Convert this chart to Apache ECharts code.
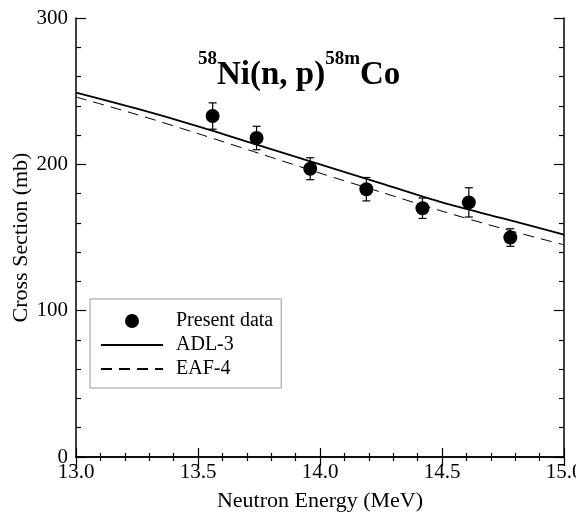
<!DOCTYPE html>
<html>
<head>
<meta charset="utf-8">
<script src="https://cdn.jsdelivr.net/npm/echarts@6/dist/echarts.min.js"></script>
<style>
html, body { margin: 0; padding: 0; background: #fff; }
#chart { width: 576px; height: 523px; }
</style>
</head>
<body>
<div id="chart"></div>
<script>
// Measured cross sections with uncertainties
const energies = [13.56, 13.74, 13.96, 14.19, 14.42, 14.61, 14.78];
const crossSections = [233, 218, 197, 183, 170, 174, 150];
const errors = [9, 8, 7.5, 8, 7, 10, 6];

// Evaluated excitation functions
const curveEnergies = [13.0, 13.25, 13.5, 13.75, 14.0, 14.25, 14.5, 14.75, 15.0];
const adl3 = [249, 238, 226, 213, 200, 187, 174, 163, 152];
const eaf4 = [246, 234, 221, 207.5, 194, 181, 168, 156, 145];

// Tick labels
const xTickValues = [13.0, 13.5, 14.0, 14.5, 15.0];
const xTickLabels = ['13.0', '13.5', '14.0', '14.5', '15.0'];
const yTickValues = [0, 100, 200, 300];
const yTickLabels = ['0', '100', '200', '300'];

const SERIF = '"Liberation Serif", "Times New Roman", serif';

function labelFor(values, labels) {
  return function (v) {
    const i = values.findIndex(function (t) { return Math.abs(t - v) < 1e-6; });
    return i >= 0 ? labels[i] : '';
  };
}

const axisLine = { show: true, lineStyle: { color: '#000', width: 1.5 } };

function xAxisCfg(pos, withLabels) {
  return {
    type: 'value', position: pos, min: 13, max: 15, interval: 0.5,
    axisLine: axisLine,
    axisTick: { show: true, inside: true, length: 9, lineStyle: { color: '#000', width: 1.2 } },
    minorTick: { show: true, splitNumber: 5, length: 4, lineStyle: { color: '#000', width: 1.2 } },
    splitLine: { show: false },
    minorSplitLine: { show: false },
    axisLabel: withLabels ? {
      show: true, color: '#000', fontFamily: SERIF, fontSize: 21, margin: 5,
      formatter: labelFor(xTickValues, xTickLabels)
    } : { show: false },
    name: withLabels ? 'Neutron Energy (MeV)' : '',
    nameLocation: 'middle', nameGap: 33, nameMoveOverlap: false,
    nameTextStyle: { color: '#000', fontFamily: SERIF, fontSize: 22 }
  };
}

function yAxisCfg(pos, withLabels) {
  return {
    type: 'value', position: pos, min: 0, max: 300, interval: 100,
    axisLine: axisLine,
    axisTick: { show: true, inside: true, length: 10, lineStyle: { color: '#000', width: 1.2 } },
    minorTick: { show: true, splitNumber: 5, length: 5, lineStyle: { color: '#000', width: 1.2 } },
    splitLine: { show: false },
    minorSplitLine: { show: false },
    axisLabel: withLabels ? {
      show: true, color: '#000', fontFamily: SERIF, fontSize: 21, margin: 8,
      formatter: labelFor(yTickValues, yTickLabels)
    } : { show: false },
    name: withLabels ? 'Cross Section (mb)' : '',
    nameLocation: 'middle', nameGap: 44, nameMoveOverlap: false,
    nameTextStyle: { color: '#000', fontFamily: SERIF, fontSize: 22 }
  };
}

const points = energies.map(function (e, i) { return [e, crossSections[i]]; });
const bars = energies.map(function (e, i) { return [e, crossSections[i] - errors[i], crossSections[i] + errors[i]]; });
const adlLine = curveEnergies.map(function (e, i) { return [e, adl3[i]]; });
const eafLine = curveEnergies.map(function (e, i) { return [e, eaf4[i]]; });

const chart = echarts.init(document.getElementById('chart'), null, { renderer: 'canvas' });

chart.setOption({
  animation: false,
  backgroundColor: '#fff',
  grid: { left: 76, right: 12, top: 18, bottom: 66, containLabel: false, outerBoundsMode: 'none' },
  title: {
    left: 193, top: 45,
    text: '{sup|58}{main|Ni(n, p)}{sup|58m}{main|Co}',
    textStyle: {
      rich: {
        main: { fontFamily: SERIF, fontWeight: 'bold', fontSize: 33, color: '#000', lineHeight: 42, verticalAlign: 'bottom' },
        sup: { fontFamily: SERIF, fontWeight: 'bold', fontSize: 19, color: '#000', lineHeight: 19, verticalAlign: 'top' }
      }
    }
  },
  legend: {
    left: 90, top: 299, orient: 'vertical',
    padding: [12, 8, 9, 10],
    borderColor: '#999', borderWidth: 1,
    itemWidth: 62, itemHeight: 14, itemGap: 4,
    textStyle: { color: '#000', fontFamily: SERIF, fontSize: 20, lineHeight: 20, padding: [0, 0, 0, 8] },
    data: [
      { name: 'Present data', icon: 'circle', itemStyle: { color: '#000', opacity: 1 } },
      { name: 'ADL-3', itemStyle: { opacity: 0 } },
      { name: 'EAF-4', itemStyle: { opacity: 0 } }
    ]
  },
  xAxis: [xAxisCfg('bottom', true), xAxisCfg('top', false)],
  yAxis: [yAxisCfg('left', true), yAxisCfg('right', false)],
  series: [
    {
      name: 'Present data', type: 'scatter', data: points,
      symbol: 'circle', symbolSize: 14,
      itemStyle: { color: '#000', opacity: 1 }, z: 5
    },
    {
      name: 'ADL-3', type: 'line', data: adlLine, smooth: 0.3,
      symbol: 'none', showSymbol: false,
      itemStyle: { color: '#000' },
      lineStyle: { color: '#000', width: 1.8, type: 'solid' }
    },
    {
      name: 'EAF-4', type: 'line', data: eafLine, smooth: 0.3,
      symbol: 'none', showSymbol: false,
      itemStyle: { color: '#000' },
      lineStyle: { color: '#000', width: 1, type: [11, 7] }
    },
    {
      type: 'custom', data: bars, z: 4,
      renderItem: function (params, api) {
        const x = api.value(0);
        const lo = api.coord([x, api.value(1)]);
        const hi = api.coord([x, api.value(2)]);
        const hw = 4;
        const style = { stroke: '#000', lineWidth: 1.2 };
        return {
          type: 'group',
          children: [
            { type: 'line', shape: { x1: lo[0], y1: lo[1], x2: hi[0], y2: hi[1] }, style: style },
            { type: 'line', shape: { x1: lo[0] - hw, y1: lo[1], x2: lo[0] + hw, y2: lo[1] }, style: style },
            { type: 'line', shape: { x1: hi[0] - hw, y1: hi[1], x2: hi[0] + hw, y2: hi[1] }, style: style }
          ]
        };
      }
    }
  ]
});
</script>
</body>
</html>
